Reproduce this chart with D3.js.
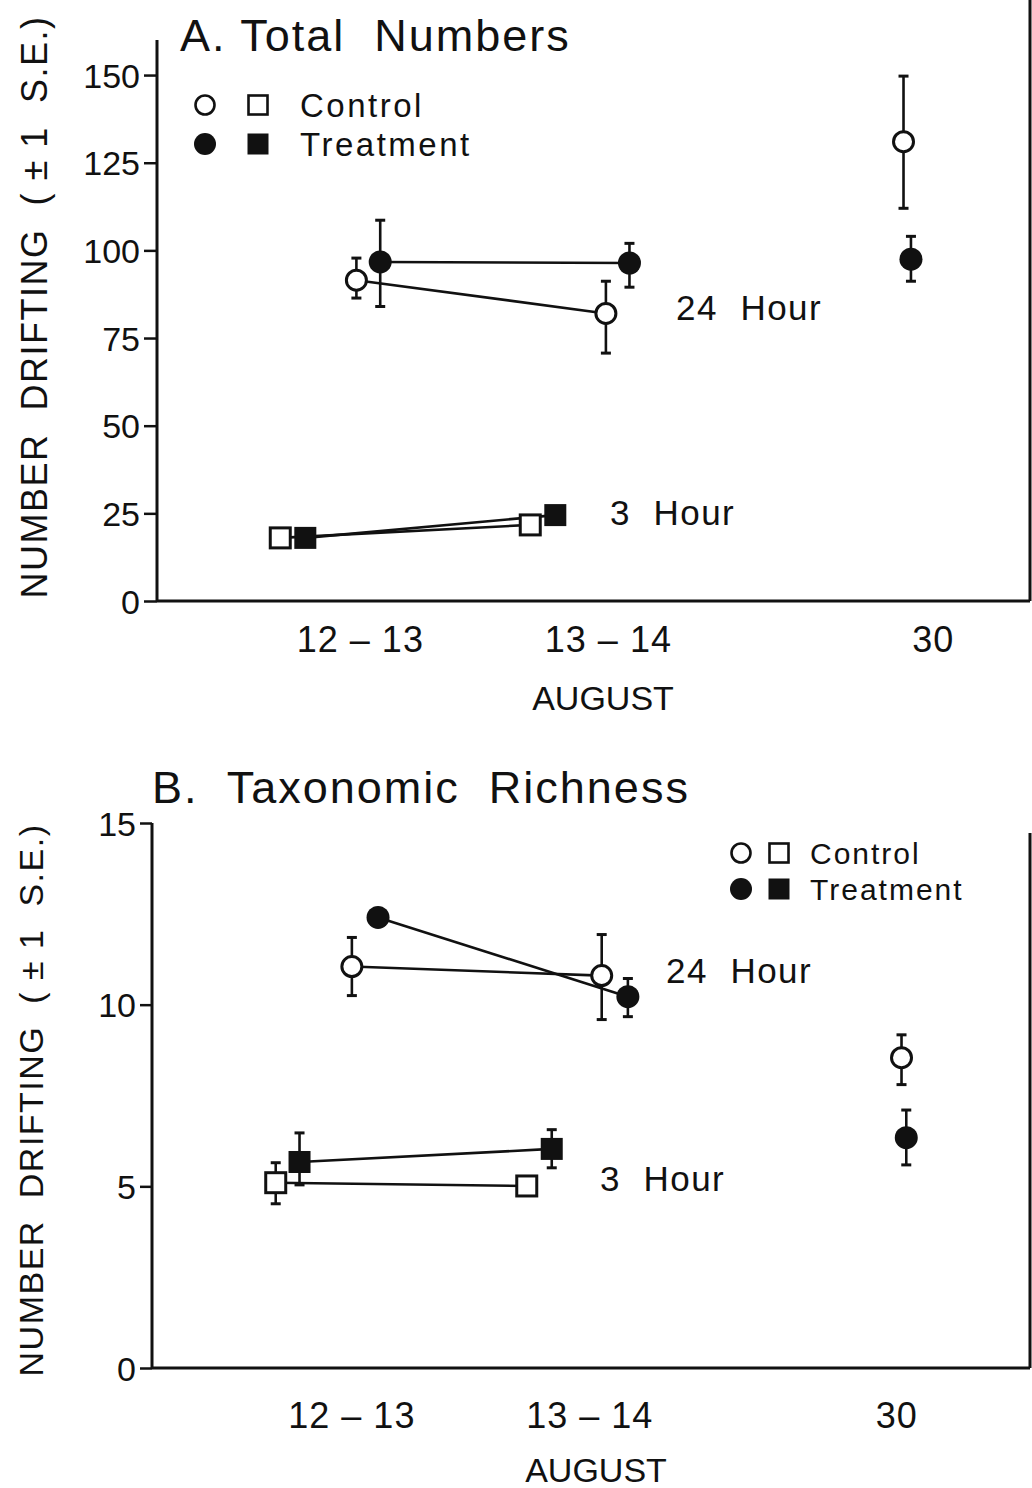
<!DOCTYPE html>
<html><head><meta charset="utf-8">
<script src="https://cdn.jsdelivr.net/npm/d3@7"></script>
<style>
html,body{margin:0;padding:0;background:#fff;}
svg{display:block;}
text{font-family:"Liberation Sans",Arial,sans-serif;fill:#111;}
</style></head>
<body>
<svg id="chart" width="1032" height="1488"></svg>
<script>
// ---------- DATA ----------
const categories = ["12 – 13", "13 – 14", "30"];
const categoryPosA = [1, 2, 3.31];
const categoryPosB = [1, 2, 3.29];
const yTicksA = [0, 25, 50, 75, 100, 125, 150];
const yTicksB = [0, 5, 10, 15];

// Panel A: Total Numbers
const a24ControlX = [0.984, 1.99, 3.19];
const a24Control = [91.5, 82, 131];
const a24ControlHi = [97.8, 91.2, 149.7];
const a24ControlLo = [86.4, 70.7, 112];
const a24TreatX = [1.08, 2.085, 3.22];
const a24Treat = [96.7, 96.4, 97.5];
const a24TreatHi = [108.6, 102, 104];
const a24TreatLo = [84, 89.5, 91.2];
const a3ControlX = [0.677, 1.685];
const a3Control = [18, 21.7];
const a3TreatX = [0.778, 1.786];
const a3Treat = [18, 24.5];

// Panel B: Taxonomic Richness
const b24ControlX = [1.0, 2.05, 3.31];
const b24Control = [11.05, 10.8, 8.54];
const b24ControlHi = [11.85, 11.93, 9.17];
const b24ControlLo = [10.25, 9.59, 7.8];
const b24TreatX = [1.11, 2.16, 3.33];
const b24Treat = [12.4, 10.22, 6.34];
const b24TreatHi = [null, 10.72, 7.1];
const b24TreatLo = [null, 9.67, 5.59];
const b3ControlX = [0.68, 1.735];
const b3Control = [5.1, 5.01];
const b3ControlHi = [5.65, null];
const b3ControlLo = [4.52, null];
const b3TreatX = [0.78, 1.84];
const b3Treat = [5.67, 6.03];
const b3TreatHi = [6.47, 6.56];
const b3TreatLo = [5.04, 5.51];

// ---------- DRAWING ----------
const svg = d3.select("#chart");

function makeSeries(xs, ys, his, los, shape, filled) {
  return xs.map((x, i) => ({x, y: ys[i], hi: his ? his[i] : null, lo: los ? los[i] : null, shape, filled}));
}

function drawPanel(cfg) {
  const g = svg.append("g");
  const x = d3.scaleLinear().domain(cfg.xDomain).range([cfg.left, cfg.right]);
  const y = d3.scaleLinear().domain(cfg.yDomain).range([cfg.bottom, cfg.top]);

  // axes
  const yAxis = d3.axisLeft(y).tickValues(cfg.yTicks).tickSize(cfg.tick).tickPadding(4).tickFormat(d3.format("d"));
  const ya = g.append("g").attr("transform", `translate(${cfg.left},0)`).call(yAxis);
  ya.select(".domain").remove();
  ya.selectAll(".tick line").attr("stroke", "#111").attr("stroke-width", 2.5);
  ya.selectAll(".tick text").attr("font-size", cfg.tickFont).attr("fill", "#111").attr("dy", "0.36em");
  g.append("line").attr("x1", cfg.left).attr("x2", cfg.left).attr("y1", y(cfg.yDomain[1])).attr("y2", cfg.bottom)
    .attr("stroke", "#111").attr("stroke-width", 3);
  g.append("line").attr("x1", cfg.left).attr("x2", cfg.right).attr("y1", cfg.bottom).attr("y2", cfg.bottom)
    .attr("stroke", "#111").attr("stroke-width", 3);
  g.append("line").attr("x1", cfg.right).attr("x2", cfg.right).attr("y1", cfg.frameTop).attr("y2", cfg.bottom)
    .attr("stroke", "#111").attr("stroke-width", 3);

  // x category labels
  g.selectAll("text.cat").data(categories).join("text").attr("class", "cat")
    .attr("x", (d, i) => x(cfg.catPos[i])).attr("y", cfg.catY)
    .attr("text-anchor", "middle").attr("font-size", cfg.catFont).attr("letter-spacing", 1)
    .text(d => d);
  g.append("text").attr("x", cfg.augX).attr("y", cfg.augY).attr("text-anchor", "middle")
    .attr("font-size", cfg.catFont - 2).text("AUGUST");

  // title
  g.append("text").attr("x", cfg.titleX).attr("y", cfg.titleY).attr("font-size", cfg.titleFont)
    .attr("letter-spacing", 2).style("white-space", "pre").text(cfg.title);

  // y label
  g.append("text").attr("transform", `translate(${cfg.ylabX},${cfg.ylabY}) rotate(-90)`)
    .attr("text-anchor", "middle").attr("font-size", cfg.ylabFont).attr("letter-spacing", 1.5)
    .style("white-space", "pre").text("NUMBER  DRIFTING  ( ± 1  S.E.)");

  // connecting lines (first two points of each series)
  const line = d3.line().x(d => x(d.x)).y(d => y(d.y));
  cfg.series.forEach(s => {
    g.append("path").datum(s.slice(0, 2)).attr("d", line)
      .attr("fill", "none").attr("stroke", "#111").attr("stroke-width", 2.6);
  });

  // error bars
  const all = cfg.series.flat();
  all.forEach(d => {
    [d.hi, d.lo].forEach(v => {
      if (v == null) return;
      g.append("line").attr("x1", x(d.x)).attr("x2", x(d.x)).attr("y1", y(d.y)).attr("y2", y(v))
        .attr("stroke", "#111").attr("stroke-width", 2.6);
      g.append("line").attr("x1", x(d.x) - 5).attr("x2", x(d.x) + 5).attr("y1", y(v)).attr("y2", y(v))
        .attr("stroke", "#111").attr("stroke-width", 3);
    });
  });

  // markers
  all.forEach(d => {
    if (d.shape === "circle") {
      g.append("circle").attr("cx", x(d.x)).attr("cy", y(d.y)).attr("r", d.filled ? 11.5 : 10)
        .attr("fill", d.filled ? "#111" : "#fff").attr("stroke", "#111").attr("stroke-width", d.filled ? 0 : 3);
    } else {
      const s = d.filled ? 22 : 20;
      g.append("rect").attr("x", x(d.x) - s / 2).attr("y", y(d.y) - s / 2).attr("width", s).attr("height", s)
        .attr("fill", d.filled ? "#111" : "#fff").attr("stroke", "#111").attr("stroke-width", d.filled ? 0 : 3);
    }
  });

  // hour labels
  cfg.hourLabels.forEach(h => {
    g.append("text").attr("x", h.x).attr("y", h.y).attr("font-size", cfg.hourFont).attr("dy", "0.36em")
      .attr("letter-spacing", 1.5).style("white-space", "pre").text(h.t);
  });

  // legend
  const L = cfg.legend;
  [[L.y1, false, "Control"], [L.y2, true, "Treatment"]].forEach(([ly, f, t]) => {
    g.append("circle").attr("cx", L.cx).attr("cy", ly).attr("r", f ? 11 : 9.5)
      .attr("fill", f ? "#111" : "#fff").attr("stroke", "#111").attr("stroke-width", f ? 0 : 2.6);
    const s = f ? 21 : 19;
    g.append("rect").attr("x", L.sx - s / 2).attr("y", ly - s / 2).attr("width", s).attr("height", s)
      .attr("fill", f ? "#111" : "#fff").attr("stroke", "#111").attr("stroke-width", f ? 0 : 2.6);
    g.append("text").attr("x", L.tx).attr("y", ly).attr("dy", "0.36em").attr("font-size", L.font)
      .attr("letter-spacing", L.ls).text(t);
  });
}

drawPanel({
  left: 157, right: 1030, top: 40, bottom: 601, frameTop: 0,
  xDomain: [0.18, 3.70], yDomain: [0, 160], yTicks: yTicksA, tick: 13, tickFont: 34,
  catPos: categoryPosA, catY: 652, catFont: 36, augX: 603, augY: 710,
  title: "A. Total  Numbers", titleX: 180, titleY: 51, titleFont: 45,
  ylabX: 47, ylabY: 307, ylabFont: 36,
  series: [
    makeSeries(a24ControlX, a24Control, a24ControlHi, a24ControlLo, "circle", false),
    makeSeries(a24TreatX, a24Treat, a24TreatHi, a24TreatLo, "circle", true),
    makeSeries(a3ControlX, a3Control, null, null, "square", false),
    makeSeries(a3TreatX, a3Treat, null, null, "square", true)
  ],
  hourFont: 35,
  hourLabels: [{x: 676, y: 307, t: "24  Hour"}, {x: 610, y: 512, t: "3  Hour"}],
  legend: {cx: 205, sx: 258, y1: 105, y2: 144, tx: 300, font: 33, ls: 2.5}
});

drawPanel({
  left: 152, right: 1030, top: 823, bottom: 1368, frameTop: 833,
  xDomain: [0.16, 3.85], yDomain: [0, 15], yTicks: yTicksB, tick: 12, tickFont: 34,
  catPos: categoryPosB, catY: 1428, catFont: 36, augX: 596, augY: 1482,
  title: "B.  Taxonomic  Richness", titleX: 152, titleY: 803, titleFont: 45,
  ylabX: 43, ylabY: 1100, ylabFont: 34,
  series: [
    makeSeries(b24ControlX, b24Control, b24ControlHi, b24ControlLo, "circle", false),
    makeSeries(b24TreatX, b24Treat, b24TreatHi, b24TreatLo, "circle", true),
    makeSeries(b3ControlX, b3Control, b3ControlHi, b3ControlLo, "square", false),
    makeSeries(b3TreatX, b3Treat, b3TreatHi, b3TreatLo, "square", true)
  ],
  hourFont: 35,
  hourLabels: [{x: 666, y: 970, t: "24  Hour"}, {x: 600, y: 1178, t: "3  Hour"}],
  legend: {cx: 741, sx: 779, y1: 853, y2: 889, tx: 810, font: 30, ls: 2}
});
</script>
</body></html>
